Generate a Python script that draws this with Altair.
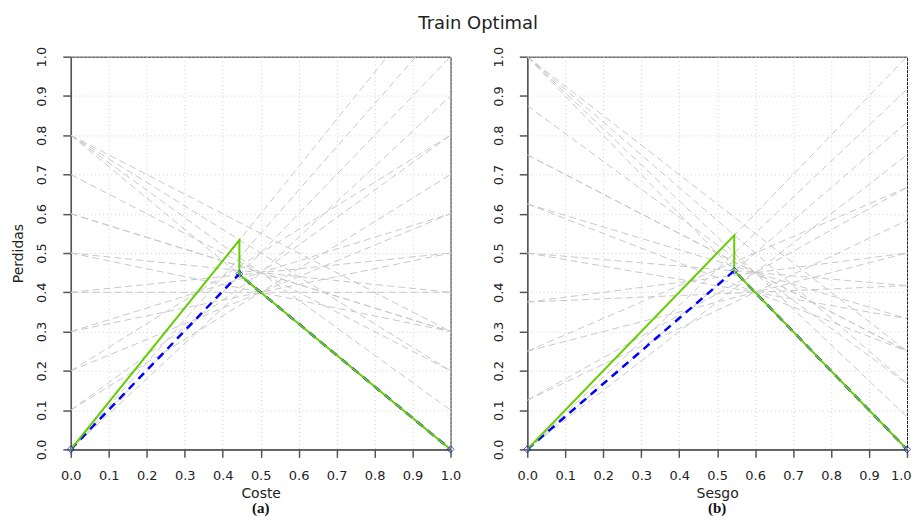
import altair as alt
import pandas as pd

ticks = [0.0, 0.1, 0.2, 0.3, 0.4, 0.5, 0.6, 0.7, 0.8, 0.9, 1.0]

# Panel (a): cost space, gray dashed lines from (0, left) to (1, right)
a_left = [0.8, 0.8, 0.8, 0.8, 0.7, 0.6, 0.6, 0.5, 0.5, 0.4, 0.4,
          0.3, 0.3, 0.2, 0.2, 0.1, 0.1, 0.0, 0.0, 0.0, 0.0]
a_right = [0.0, 0.1, 0.2, 0.3, 0.2, 0.3, 0.3, 0.3, 0.4, 0.4, 0.5,
           0.5, 0.6, 0.6, 0.8, 0.7, 0.8, 0.9, 1.0, 1.1, 1.2]

# Panel (b): skew space
b_left = [1.0, 1.0, 1.0, 1.0, 0.875, 0.75, 0.75, 0.625, 0.625, 0.5, 0.5,
          0.375, 0.375, 0.25, 0.25, 0.125, 0.125, 0.0, 0.0, 0.0, 0.0]
b_right = [0.0, 0.083, 0.167, 0.25, 0.167, 0.25, 0.25, 0.25, 0.333, 0.333, 0.417,
           0.417, 0.5, 0.5, 0.667, 0.583, 0.667, 0.75, 0.833, 0.917, 1.0]

# Green (train) and blue (optimal) curves
a_green_x = [0.0, 0.444, 0.444, 1.0]
a_green_y = [0.0, 0.533, 0.445, 0.0]
a_blue_x = [0.0, 0.444, 0.444, 1.0]
a_blue_y = [0.0, 0.447, 0.445, 0.0]
a_diam_x = [0.0, 0.444, 1.0]
a_diam_y = [0.0, 0.447, 0.0]

b_green_x = [0.0, 0.545, 0.545, 1.0]
b_green_y = [0.0, 0.545, 0.455, 0.0]
b_blue_x = [0.0, 0.545, 1.0]
b_blue_y = [0.0, 0.455, 0.0]
b_diam_x = [0.0, 0.545, 1.0]
b_diam_y = [0.0, 0.455, 0.0]

FONT = "DejaVu Sans"


def panel(left, right, gx, gy, bx, by, dx, dy, xtitle, ytitle, label, last_right):
    rows = []
    for i, (l, r) in enumerate(zip(left, right)):
        rows.append({"x": 0.0, "y": l, "id": i})
        rows.append({"x": 1.0, "y": r, "id": i})
    gray_df = pd.DataFrame(rows)
    green_df = pd.DataFrame({"x": gx, "y": gy, "i": list(range(len(gx)))})
    blue_df = pd.DataFrame({"x": bx, "y": by, "i": list(range(len(bx)))})
    diam_df = pd.DataFrame({"x": dx, "y": dy})

    xs = alt.Scale(domain=[0, 1], nice=False, zero=False)
    ys = alt.Scale(domain=[0, 1], nice=False, zero=False)
    yaxis_kw = dict(values=ticks, format=".1f", grid=True, gridDash=[1, 3],
                    gridColor="#d0d0d0", tickSize=8, tickColor="#555",
                    tickWidth=1.5, domainColor="#555", domainWidth=1.5,
                    labelAngle=270, labelAlign="center", labelBaseline="bottom",
                    labelPadding=14, labelFont=FONT, labelFontSize=13,
                    labelColor="#222", titleFont=FONT, titleFontSize=14,
                    titleFontWeight="normal", titleColor="#222", titlePadding=10)
    if ytitle:
        yaxis = alt.Axis(title=ytitle, **yaxis_kw)
    else:
        yaxis = alt.Axis(title=None, **yaxis_kw)
    xaxis_kw = dict(values=ticks, format=".1f", grid=True, gridDash=[1, 3],
                    gridColor="#d0d0d0", tickSize=8, tickColor="#555",
                    tickWidth=1.5, domainColor="#555", domainWidth=1.5,
                    labelPadding=12, labelFont=FONT, labelFontSize=13,
                    labelColor="#222", title=xtitle, titleFont=FONT,
                    titleFontSize=14, titleFontWeight="normal",
                    titleColor="#222", titlePadding=4, labelFlush=False)
    if last_right:
        xaxis_kw["labelAlign"] = {"condition": {"test": "datum.value >= 1",
                                                "value": "right"},
                                  "value": "center"}
        xaxis_kw["labelOffset"] = {"condition": {"test": "datum.value >= 1",
                                                 "value": 4},
                                   "value": 0}
    xaxis = alt.Axis(**xaxis_kw)
    X = alt.X("x:Q", scale=xs, axis=xaxis)
    Y = alt.Y("y:Q", scale=ys, axis=yaxis)

    gray = alt.Chart(gray_df).mark_line(
        color="#c8c8c8", strokeWidth=1, strokeDash=[7, 4], clip=True
    ).encode(x=X, y=Y, detail="id:N")
    green = alt.Chart(green_df).mark_line(
        color="#66CD00", strokeWidth=2, clip=True
    ).encode(x=X, y=Y, order="i:Q")
    blue = alt.Chart(blue_df).mark_line(
        color="#0000FF", strokeWidth=2.5, strokeDash=[8, 6], clip=True
    ).encode(x=X, y=Y, order="i:Q")
    diam = alt.Chart(diam_df).mark_point(
        shape="diamond", color="#0000FF", filled=False, size=50, strokeWidth=1
    ).encode(x=X, y=Y)

    return alt.layer(gray, blue, green, diam).properties(
        width=381, height=394,
        title=alt.TitleParams(label, orient="bottom", font="Liberation Serif",
                              fontSize=15, fontWeight="bold", color="#111",
                              offset=1),
    )


pa = panel(a_left, a_right, a_green_x, a_green_y, a_blue_x, a_blue_y,
           a_diam_x, a_diam_y, "Coste", "Perdidas", "(a)", False)
pb = panel(b_left, b_right, b_green_x, b_green_y, b_blue_x, b_blue_y,
           b_diam_x, b_diam_y, "Sesgo", None, "(b)", True)

chart = alt.hconcat(pa, pb, spacing=30).properties(
    title=alt.TitleParams("Train Optimal", font=FONT, fontSize=18,
                          fontWeight="normal", color="#222", anchor="middle",
                          dx=16, offset=13),
    padding={"left": 3, "top": 6, "right": 0, "bottom": 0},
).configure_view(stroke="#222", strokeWidth=1)

chart.save("out.html", embed_options={"renderer": "svg", "actions": False})
